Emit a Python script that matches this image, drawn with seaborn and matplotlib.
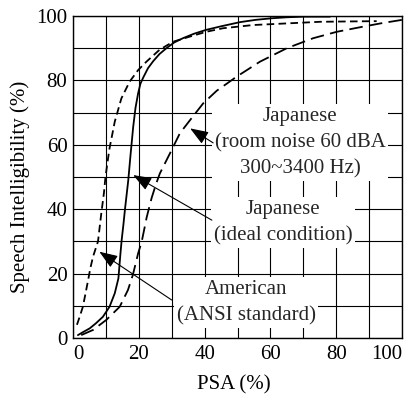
import numpy as np
import pandas as pd
import matplotlib
matplotlib.use("Agg")
import matplotlib.pyplot as plt
import seaborn as sns

# ---- data ----
ideal_x = [1.5, 3, 5.1, 7, 9.1, 11.1, 12.7, 13.8, 14.4, 14.8, 15.3, 15.8, 16.8, 17.5, 18.3, 19.0, 19.8,
           20.5, 21.4, 22.8, 24.4, 26.3, 28.4, 30.8, 33.4, 36.8, 40.5, 45, 50.8, 55.5, 60.5, 65, 70, 78.1]
ideal_y = [0.9, 1.8, 3.0, 4.6, 6.6, 9.7, 13.9, 18.5, 26, 30.5, 35, 40, 49, 57, 65.6, 71.5, 76,
           79, 81, 83.8, 86, 88.2, 90, 91.8, 93.1, 94.5, 95.7, 96.8, 98.1, 98.8, 99.3, 99.6, 99.8, 99.8]

ansi_x = [1.2, 2, 3.0, 3.8, 4.6, 5.3, 6.1, 7.6, 8.6, 9.4, 9.8, 10.4, 11.1, 12.7, 14.7, 17.2, 19.8,
          22.3, 26.3, 30.4, 35.5, 40.5, 45.6, 54.8, 65, 75.1, 83, 92.3]
ansi_y = [4.1, 6.5, 9.7, 13.8, 18, 21.8, 25.3, 30, 38.7, 45, 49.3, 54, 58.9, 67.2, 74.4, 79.6, 83.2,
          85.8, 89.5, 92, 93.6, 95.1, 96.2, 97.2, 97.7, 98.2, 98.3, 98.4]

noise_x = [2.5, 6.1, 10.1, 14.2, 16.7, 18.2, 19.8, 20.9, 22.4, 23.9, 25.3, 26.4, 29.5, 32.5, 35.6,
           39.6, 43.7, 49.8, 56.8, 65, 73, 80.2, 88.2, 94, 100]
noise_y = [0.9, 2.5, 5.6, 9.7, 14.9, 19.6, 26.3, 30, 37.5, 43.5, 48, 51.1, 57.4, 63.6, 67.7,
           72.9, 76.8, 81.2, 85.8, 90, 93.1, 95.1, 96.7, 97.8, 98.8]

x_ticks = [0, 20, 40, 60, 80, 100]
y_ticks = [0, 20, 40, 60, 80, 100]
x_tick_labels = ["0", "20", "40", "60", "80", "100"]
y_tick_labels = ["0", "20", "40", "60", "80", "100"]

labels = {
    "noise": "Japanese\n(room noise 60 dBA\n300~3400 Hz)",
    "ideal": "Japanese\n(ideal condition)",
    "ansi": "American\n(ANSI standard)",
}

df = pd.concat([
    pd.DataFrame({"psa": ideal_x, "si": ideal_y, "cond": "ideal"}),
    pd.DataFrame({"psa": ansi_x, "si": ansi_y, "cond": "ansi"}),
    pd.DataFrame({"psa": noise_x, "si": noise_y, "cond": "noise"}),
], ignore_index=True)

sns.set_style("white")
plt.rcParams["font.family"] = ["Liberation Serif", "DejaVu Serif"]

FS = 15

fig = plt.figure(figsize=(4.05, 3.96), dpi=100)
ax = fig.add_axes([73 / 405, 1 - 338 / 396, 329 / 405, 322 / 396])

sns.lineplot(data=df, x="psa", y="si", style="cond", color="black",
             dashes={"ideal": "", "ansi": (4.2, 2.4), "noise": (7.5, 3.5)},
             linewidth=1.3, sort=False, estimator=None, legend=False, ax=ax, zorder=4)

ax.set_xlim(0, 100)
ax.set_ylim(0, 100)
ax.set_xticks(np.arange(0, 101, 10), minor=True)
ax.set_yticks(np.arange(0, 101, 10), minor=True)
ax.set_xticks(x_ticks)
ax.set_yticks(y_ticks)
ax.set_xticklabels(x_tick_labels)
ax.set_yticklabels(y_tick_labels)
xt = ax.get_xticklabels()
xt[0].set_ha("left")
xt[-1].set_ha("right")
ax.grid(True, which="both", color="black", linewidth=0.8)
ax.set_axisbelow(True)
ax.tick_params(which="both", length=0, labelsize=FS, colors="black")
ax.tick_params(axis="x", pad=5)
ax.tick_params(axis="y", pad=4)
for s in ax.spines.values():
    s.set_color("black")
    s.set_linewidth(1.0)

ax.set_xlabel("PSA (%)", fontsize=FS, color="black", va="center")
ax.set_ylabel("Speech Intelligibility (%)", fontsize=FS, color="black", va="center")
ax.xaxis.set_label_coords(0.49, -0.146)
ax.yaxis.set_label_coords(-0.161, 0.469)

box = dict(facecolor="white", edgecolor="none", pad=2)
ax.text(69, 60.6, labels["noise"], ha="center", va="center", fontsize=FS,
        linespacing=1.5, bbox=box, zorder=3)
ax.text(63.8, 35.9, labels["ideal"], ha="center", va="center", fontsize=FS,
        linespacing=1.5, bbox=box, zorder=3)
ax.text(52.6, 11.0, labels["ansi"], ha="center", va="center", fontsize=FS,
        linespacing=1.5, bbox=box, zorder=3)

arrow = dict(arrowstyle="-|>,head_length=0.8,head_width=0.3", color="black",
             lw=0.8, shrinkA=0, shrinkB=0, mutation_scale=14)
ax.annotate("", xy=(35.6, 65.1), xytext=(42.6, 60.6), arrowprops=arrow, zorder=5)
ax.annotate("", xy=(18.3, 50.6), xytext=(42.2, 36.6), arrowprops=arrow, zorder=5)
ax.annotate("", xy=(8.0, 26.8), xytext=(30.0, 11.8), arrowprops=arrow, zorder=5)

fig.savefig("out.png", dpi=100)
